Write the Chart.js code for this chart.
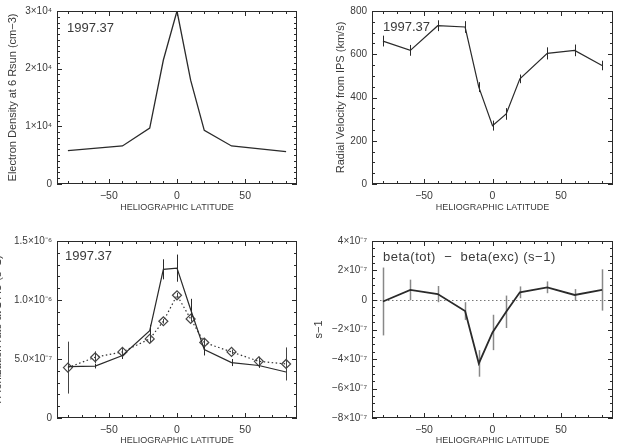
<!DOCTYPE html>
<html>
<head>
<meta charset="utf-8">
<script src="https://cdn.jsdelivr.net/npm/chart.js@4.4.1/dist/chart.umd.min.js"></script>
<style>
  body { margin: 0; background: #fff; }
  #wrap { position: relative; width: 618px; height: 446px; overflow: hidden; background: #fff; }
  canvas { position: absolute; }
</style>
</head>
<body>
<div id="wrap">
  <canvas id="c1" width="309" height="223" style="left:0;top:0"></canvas>
  <canvas id="c2" width="309" height="223" style="left:309px;top:0"></canvas>
  <canvas id="c3" width="309" height="223" style="left:0;top:223px"></canvas>
  <canvas id="c4" width="309" height="223" style="left:309px;top:223px"></canvas>
</div>
<script>
// --- data ---
const latDensity = [-80, -40, -20, -10, 0, 10, 20, 40, 80]
const density = [5800, 6600, 9700, 21500, 30000, 18000, 9300, 6600, 5600]

const lat = [-80, -60, -40, -20, -10, 0, 10, 20, 40, 60, 80]
const velocity = [661, 618, 732, 726, 448, 270, 324, 486, 604, 618, 548]
const velocityErr = [25, 25, 25, 27, 23, 23, 27, 20, 28, 27, 22]

const ionTotal = [4.35e-7, 4.4e-7, 5.3e-7, 7.4e-7, 1.26e-6, 1.27e-6, 9.2e-7, 5.8e-7, 4.7e-7, 4.45e-7, 3.9e-7]
const ionTotalErr = [2e-8, 2e-8, 3e-8, 5e-8, 8.5e-8, 1.15e-7, 9e-8, 5e-8, 3e-8, 2e-8, 2e-8]
const ionExc = [4.27e-7, 5.15e-7, 5.6e-7, 6.7e-7, 8.2e-7, 1.04e-6, 8.4e-7, 6.4e-7, 5.6e-7, 4.8e-7, 4.58e-7]
const ionExcErr = [2.2e-7, 5e-8, 4e-8, 3e-8, 2e-8, 2e-8, 2e-8, 3e-8, 2e-8, 4e-8, 1.4e-7]

const betaDiff = [-1e-8, 6.8e-8, 4e-8, -7.5e-8, -4.3e-7, -2.2e-7, -8e-8, 5.2e-8, 8.6e-8, 3.4e-8, 6.8e-8]
const betaDiffErr = [2.3e-7, 7e-8, 5.5e-8, 6e-8, 9e-8, 1.2e-7, 1.1e-7, 4e-8, 4e-8, 4e-8, 1.4e-7]

const xTicks = [-50, 0, 50]
const densTicks = [0, 1e4, 2e4, 3e4]
const densTickLabels = ['0', '1×10⁴', '2×10⁴', '3×10⁴']
const velTicks = [0, 200, 400, 600, 800]
const velTickLabels = ['0', '200', '400', '600', '800']
const ionTicks = [0, 5e-7, 1e-6, 1.5e-6]
const ionTickLabels = ['0', '5.0×10⁻⁷', '1.0×10⁻⁶', '1.5×10⁻⁶']
const betaTicks = [-8e-7, -6e-7, -4e-7, -2e-7, 0, 2e-7, 4e-7]
const betaTickLabels = ['−8×10⁻⁷', '−6×10⁻⁷', '−4×10⁻⁷', '−2×10⁻⁷', '0', '2×10⁻⁷', '4×10⁻⁷']

const FONT = '"Liberation Sans", Arial, sans-serif'
const INK = '#2a2a2a'
const TEXT = '#3a3a3a'

function pts(xs, ys) {
  return xs.map((x, i) => ({ x: x, y: ys[i] }))
}

// box frame, inward major/minor ticks on all four sides, error bars and labels
const idlFrame = {
  id: 'idlFrame',
  beforeDatasetsDraw(chart) {
    const o = chart.options.plugins.idlFrame
    const ctx = chart.ctx
    const xs = chart.scales.x, ys = chart.scales.y
    const a = chart.chartArea
    ctx.save()
    if (o.zeroLine) {
      const y0 = Math.round(ys.getPixelForValue(0)) + 0.5
      ctx.strokeStyle = '#777'
      ctx.lineWidth = 1
      ctx.setLineDash([1.5, 2.5])
      ctx.beginPath()
      ctx.moveTo(a.left, y0)
      ctx.lineTo(a.right, y0)
      ctx.stroke()
      ctx.setLineDash([])
    }
    chart.data.datasets.forEach(ds => {
      if (!ds.errors) return
      ctx.strokeStyle = ds.errorColor || INK
      ctx.lineWidth = ds.errorWidth || 1
      ds.data.forEach((p, i) => {
        const px = Math.round(xs.getPixelForValue(p.x)) + 0.5
        ctx.beginPath()
        ctx.moveTo(px, ys.getPixelForValue(p.y - ds.errors[i]))
        ctx.lineTo(px, ys.getPixelForValue(p.y + ds.errors[i]))
        ctx.stroke()
      })
    })
    ctx.restore()
  },
  afterDraw(chart) {
    const o = chart.options.plugins.idlFrame
    const ctx = chart.ctx
    const xs = chart.scales.x, ys = chart.scales.y
    const a = chart.chartArea
    ctx.save()
    ctx.strokeStyle = INK
    ctx.lineWidth = 1
    ctx.strokeRect(a.left + 0.5, a.top + 0.5, a.right - a.left - 1, a.bottom - a.top - 1)

    ctx.beginPath()
    const xStart = Math.ceil(xs.min / o.xMinor) * o.xMinor
    for (let v = xStart; v <= xs.max + 1e-9; v += o.xMinor) {
      const major = Math.abs(v / o.xMajor - Math.round(v / o.xMajor)) < 1e-6
      const len = major ? 5 : 3
      const px = Math.round(xs.getPixelForValue(v)) + 0.5
      ctx.moveTo(px, a.bottom); ctx.lineTo(px, a.bottom - len)
      ctx.moveTo(px, a.top); ctx.lineTo(px, a.top + len)
    }
    const n = Math.round((ys.max - ys.min) / o.yMinor)
    for (let k = 0; k <= n; k++) {
      const v = ys.min + k * o.yMinor
      const major = Math.abs(v / o.yMajor - Math.round(v / o.yMajor)) < 1e-6
      const len = major ? 5 : 3
      const py = Math.round(ys.getPixelForValue(v)) + 0.5
      ctx.moveTo(a.left, py); ctx.lineTo(a.left + len, py)
      ctx.moveTo(a.right, py); ctx.lineTo(a.right - len, py)
    }
    ctx.stroke()

    ctx.fillStyle = TEXT
    ctx.font = '13px ' + FONT
    ctx.textBaseline = 'middle'
    ctx.textAlign = 'left'
    ctx.letterSpacing = o.labelSpacing || '0px'
    ctx.fillText(o.label, a.left + o.labelDx, a.top + o.labelDy)
    ctx.letterSpacing = '0px'

    ctx.font = '9px ' + FONT
    ctx.textAlign = 'center'
    ctx.fillText('HELIOGRAPHIC LATITUDE', (a.left + a.right) / 2, a.bottom + o.xTitleDy)

    ctx.font = '11px ' + FONT
    ctx.translate(o.yTitleX, (a.top + a.bottom) / 2)
    ctx.rotate(-Math.PI / 2)
    ctx.fillText(o.yTitle, 0, 0)
    ctx.restore()
  }
}

function makePanel(canvasId, cfg) {
  return new Chart(document.getElementById(canvasId), {
    type: 'line',
    data: { datasets: cfg.datasets },
    options: {
      responsive: false,
      animation: false,
      devicePixelRatio: 1,
      layout: { padding: { top: cfg.top, right: cfg.right, left: 0, bottom: 0 } },
      plugins: {
        legend: { display: false },
        tooltip: { enabled: false },
        idlFrame: cfg.frame
      },
      scales: {
        x: {
          type: 'linear',
          min: -88, max: 88,
          grid: { display: false, drawTicks: false },
          border: { display: false },
          afterBuildTicks: s => { s.ticks = xTicks.map(v => ({ value: v })) },
          afterFit: s => { s.height = cfg.xHeight },
          ticks: {
            autoSkip: false, maxRotation: 0, padding: 6,
            color: TEXT, font: { family: FONT, size: 10.5 },
            callback: v => (v < 0 ? '−' + Math.abs(v) : String(v))
          }
        },
        y: {
          type: 'linear',
          min: cfg.yTicks[0], max: cfg.yTicks[cfg.yTicks.length - 1],
          grid: { display: false, drawTicks: false },
          border: { display: false },
          afterBuildTicks: s => { s.ticks = cfg.yTicks.map(v => ({ value: v })) },
          afterFit: s => { s.width = cfg.yWidth },
          ticks: {
            autoSkip: false, padding: 5,
            color: TEXT, font: { family: FONT, size: 10 },
            callback: (v, i) => cfg.yLabels[i]
          }
        }
      }
    },
    plugins: [idlFrame]
  })
}

const solid = (data, width) => ({
  data: data, borderColor: INK, borderWidth: width, pointRadius: 0,
  tension: 0, fill: false
})

makePanel('c1', {
  top: 7, right: 12, yWidth: 57, xHeight: 39,
  yTicks: densTicks, yLabels: densTickLabels,
  datasets: [solid(pts(latDensity, density), 1.3)],
  frame: {
    xMajor: 50, xMinor: 10, yMajor: 1e4, yMinor: 1000,
    label: '1997.37', labelDx: 10, labelDy: 17, xTitleDy: 24,
    yTitle: 'Electron Density at 6 Rsun (cm−3)', yTitleX: 13
  }
})

makePanel('c2', {
  top: 7, right: 5, yWidth: 63, xHeight: 39,
  yTicks: velTicks, yLabels: velTickLabels,
  datasets: [Object.assign(solid(pts(lat, velocity), 1.2), { errors: velocityErr })],
  frame: {
    xMajor: 50, xMinor: 10, yMajor: 200, yMinor: 50,
    label: '1997.37', labelDx: 11, labelDy: 16, xTitleDy: 24,
    yTitle: 'Radial Velocity from IPS (km/s)', yTitleX: 32
  }
})

makePanel('c3', {
  top: 18, right: 12, yWidth: 57, xHeight: 28,
  yTicks: ionTicks, yLabels: ionTickLabels,
  datasets: [
    Object.assign(solid(pts(lat, ionTotal), 1.2), { errors: ionTotalErr }),
    {
      data: pts(lat, ionExc), borderColor: '#333', borderWidth: 1.2,
      borderDash: [1.5, 2.5], tension: 0, fill: false,
      pointStyle: 'rectRot', pointRadius: 4.5, pointBorderWidth: 1.2,
      pointBorderColor: '#444', pointBackgroundColor: 'rgba(255,255,255,0)',
      errors: ionExcErr, errorColor: '#444'
    }
  ],
  frame: {
    xMajor: 50, xMinor: 10, yMajor: 5e-7, yMinor: 1e-7,
    label: '1997.37', labelDx: 8, labelDy: 15, xTitleDy: 23,
    yTitle: 'H Ionization rate at 1 AU (s−1)', yTitleX: -2
  }
})

makePanel('c4', {
  top: 18, right: 5, yWidth: 63, xHeight: 28,
  yTicks: betaTicks, yLabels: betaTickLabels,
  datasets: [Object.assign(solid(pts(lat, betaDiff), 1.8), { errors: betaDiffErr, errorColor: '#888', errorWidth: 1.5 })],
  frame: {
    xMajor: 50, xMinor: 10, yMajor: 2e-7, yMinor: 5e-8, zeroLine: true,
    label: 'beta(tot)  −  beta(exc) (s−1)', labelSpacing: '0.5px', labelDx: 11, labelDy: 16, xTitleDy: 23,
    yTitle: 's−1', yTitleX: 10
  }
})
</script>
</body>
</html>
